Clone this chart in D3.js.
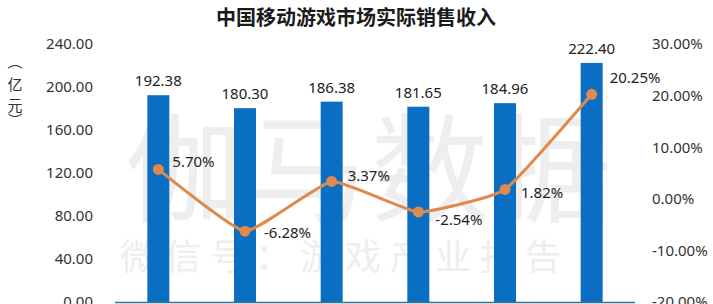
<!DOCTYPE html>
<html><head><meta charset="utf-8">
<script src="https://cdn.jsdelivr.net/npm/d3@7/dist/d3.min.js"></script>
<style>
html,body{margin:0;padding:0;background:#fff;}
svg{display:block;}
</style></head>
<body>
<svg id="c" width="713" height="304"></svg>
<script>
const categories = ["P1","P2","P3","P4","P5","P6"];
const revenue = [192.38, 180.30, 186.38, 181.65, 184.96, 222.40];
const growth = [5.70, -6.28, 3.37, -2.54, 1.82, 20.25];
const leftTicks = [0, 40, 80, 120, 160, 200, 240];
const rightTicks = [-20, -10, 0, 10, 20, 30];
const title = "中国移动游戏市场实际销售收入";
const yTitle = ["︵","亿","元","︶"];
// layout nudges for the growth labels (dx, dy in px)
const growthLabelNudge = [[14,-8],[19,1],[16,-6],[17,7],[16,3],[18,-17]];

const f2 = v => d3.format(".2f")(v).replace("\u2212","-");

const svg = d3.select("#c");
const M = {l:115, r:635, t:44, b:302};
const font = "'Noto Sans','Noto Sans CJK SC',sans-serif";

// watermark
svg.append("text").attr("x",125).attr("y",213)
  .attr("font-family","'Noto Sans CJK SC',sans-serif").attr("font-size",118)
  .attr("letter-spacing",5).attr("fill","#eeeeee").text("伽马数据");
svg.append("text").attr("x",120).attr("y",270)
  .attr("font-family","'Noto Sans CJK SC',sans-serif").attr("font-size",36)
  .attr("letter-spacing",9).attr("fill","#eeeeee").text("微信号：游戏产业报告");

const x = d3.scaleBand().domain(categories).range([M.l, M.r]);
const yL = d3.scaleLinear().domain([0,240]).range([M.b, M.t]);
const yR = d3.scaleLinear().domain([-20,30]).range([M.b, M.t]);

// title
svg.append("text").attr("x",356).attr("y",25).attr("text-anchor","middle")
  .attr("font-family","'Noto Sans CJK SC',sans-serif").attr("font-weight","bold")
  .attr("font-size",20).attr("fill","#1a1a1a").text(title);

// left axis labels
const axL = d3.axisLeft(yL).tickValues(leftTicks).tickFormat(f2).tickSize(0).tickPadding(0);
const gL = svg.append("g").attr("transform","translate(93,0)").call(axL);
gL.select(".domain").remove();
gL.selectAll("text").attr("font-family",font).attr("font-size",15).attr("fill","#333");

// right axis labels
const axR = d3.axisRight(yR).tickValues(rightTicks).tickFormat(d => f2(d)+"%").tickSize(0).tickPadding(0);
const gR = svg.append("g").attr("transform","translate(652,0)").call(axR);
gR.select(".domain").remove();
gR.selectAll("text").attr("font-family",font).attr("font-size",15).attr("fill","#333");

// y title
svg.append("g").selectAll("text").data(yTitle).join("text")
  .attr("x",15).attr("y",(d,i)=>[60,83,104,119][i])
  .attr("text-anchor","middle").attr("dominant-baseline","central")
  .attr("font-family","'Noto Sans CJK SC',sans-serif").attr("font-size",15).attr("fill","#333")
  .text(d=>d);

// bars
const bw = 22;
svg.append("g").selectAll("rect").data(revenue).join("rect")
  .attr("x",(d,i)=>x(categories[i])+x.bandwidth()/2-bw/2)
  .attr("width",bw)
  .attr("y",d=>yL(d)).attr("height",d=>yL(0)-yL(d))
  .attr("fill","#0a6fc2");

// bar labels
svg.append("g").selectAll("text").data(revenue).join("text")
  .attr("x",(d,i)=>x(categories[i])+x.bandwidth()/2)
  .attr("y",d=>yL(d)-9)
  .attr("text-anchor","middle")
  .attr("font-family",font).attr("font-size",15).attr("fill","#222")
  .text(d=>f2(d));

// axis line
svg.append("line").attr("x1",M.l).attr("x2",M.r).attr("y1",M.b+0.5).attr("y2",M.b+0.5)
  .attr("stroke","#3d6f8e").attr("stroke-width",1.5);

// growth line
const cx = (i)=>x(categories[i])+x.bandwidth()/2;
const line = d3.line().x((d,i)=>cx(i)).y(d=>yR(d)).curve(d3.curveCardinal.tension(0.6));
svg.append("path").datum(growth).attr("d",line)
  .attr("fill","none").attr("stroke","#df8a4c").attr("stroke-width",3);
svg.append("g").selectAll("circle").data(growth).join("circle")
  .attr("cx",(d,i)=>cx(i)).attr("cy",d=>yR(d)).attr("r",5.5)
  .attr("fill","#df8a4c");

// growth labels
svg.append("g").selectAll("text").data(growth).join("text")
  .attr("x",(d,i)=>cx(i)+growthLabelNudge[i][0])
  .attr("y",(d,i)=>yR(d)+growthLabelNudge[i][1])
  .attr("dominant-baseline","central")
  .attr("font-family",font).attr("font-size",15).attr("fill","#222")
  .text(d=>f2(d)+"%");
</script>
</body></html>
